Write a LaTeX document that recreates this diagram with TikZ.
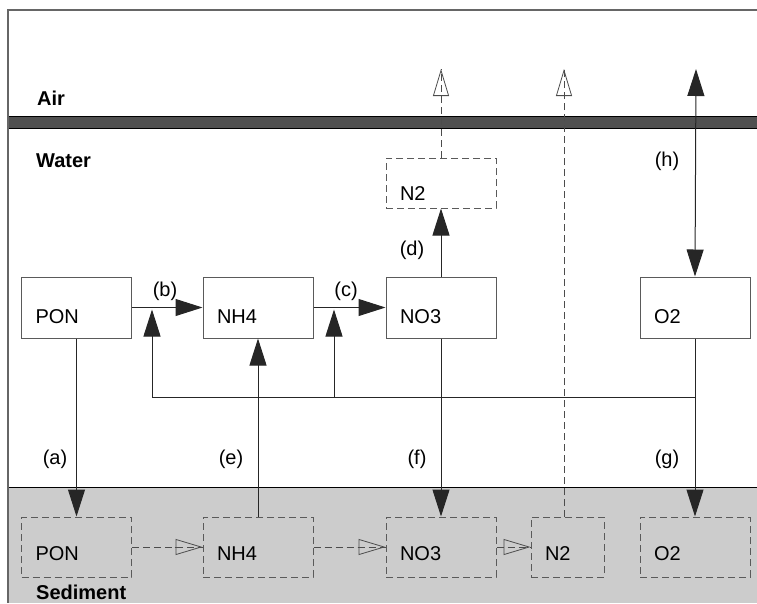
\documentclass[tikz,border=0pt]{standalone}
\usepackage{fontspec}
\setmainfont{Liberation Sans}
\usetikzlibrary{arrows.meta,calc}
\definecolor{band}{HTML}{505050}
\definecolor{sed}{HTML}{CCCCCC}
\definecolor{boxline}{HTML}{5A5A5A}
\tikzset{
  lab/.style={font=\fontsize{20}{24}\selectfont, inner sep=0pt},
  zone/.style={font=\fontsize{20}{24}\selectfont\bfseries, inner sep=0pt, anchor=base west},
  wbox/.style={draw=boxline, line width=1pt, fill=white, minimum width=110pt, minimum height=61pt,
     text width=82pt, align=left, inner xsep=14pt, inner ysep=0pt, text height=31pt, text depth=0pt,
     font=\fontsize{20}{24}\selectfont},
  n2box/.style={wbox, dash pattern=on 7pt off 4pt, minimum height=50pt, text height=34pt},
  sbox/.style={wbox, fill=none, dash pattern=on 7pt off 4pt, minimum height=60pt, text height=26pt},
  conn/.style={draw=black!85, line width=1pt},
  arr/.style={conn, -{Triangle[length=27pt,width=17pt]}},
  darr/.style={conn, {Triangle[length=27pt,width=17pt]}-{Triangle[length=27pt,width=17pt]}},
  dconn/.style={draw=black!70, line width=1pt, dash pattern=on 7pt off 4pt},
  oarr/.style={draw=black!70, line width=0.8pt, -{Triangle[open,length=27pt,width=16pt]}},
}
\begin{document}
\begin{tikzpicture}[x=1pt,y=-1pt]
\useasboundingbox (0,0) rectangle (757,603);
% background zones
\fill[sed] (8,487) rectangle (757,603);
\draw[black, line width=1pt] (8,487) -- (757,487);
\fill[band] (8,116) rectangle (757,128);
\draw[black, line width=0.8pt] (8,116) -- (757,116) (8,128) -- (757,128);
\draw[black!60, line width=1.5pt] (757,10) -- (8,10) -- (8,603);
% zone labels
\node[zone] (air) at (37,105) {Air};
\node[zone] (water) at (36,167) {Water};
\node[zone] (sediment) at (36,599) {Sediment};
% coordinates
\coordinate (topa) at (441,69);
\coordinate (topb) at (564,69);
\coordinate (topc) at (696,69);
\coordinate (fbr) at (696,397);
\coordinate (fbl) at (152,397);
\coordinate (fbm) at (334,397);
% dashed lines to the air (drawn first)
\draw[dconn] (topb |- 0,517) -- (topb);
\draw[oarr] ($(topb)+(0,28)$) -- (topb);
% water boxes
\node[wbox] (pon) at (76.5,307.5) {PON};
\node[wbox] (nh4) at (258,307.5) {NH4};
\node[wbox] (no3) at (441,307.5) {NO3};
\node[wbox] (o2) at (695,307.5) {O2};
\node[n2box] (n2) at (441,183) {N2};
% sediment boxes
\node[sbox] (spon) at (76.5,547) {PON};
\node[sbox] (snh4) at (258,547) {NH4};
\node[sbox] (sno3) at (441,547) {NO3};
\node[sbox, minimum width=73pt, text width=45pt] (sn2) at (567.5,547) {N2};
\node[sbox] (so2) at (695,547) {O2};
% water connectors
\draw[arr] (pon.east) -- (nh4.west);
\draw[arr] (nh4.east) -- (no3.west);
\draw[arr] (no3.north) -- (n2.south);
\draw[darr] (topc) -- (o2.north);
\draw[arr] (o2.south) -- (so2.north);
\draw[arr] (pon.south) -- (spon.north);
\draw[arr] (snh4.north) -- (nh4.south);
\draw[arr] (no3.south) -- (sno3.north);
\draw[arr] (fbr) -- (fbl) -- ($(fbl |- pon.east)+(0,2)$);
\draw[arr] (fbm) -- ($(fbm |- nh4.east)+(0,2)$);
% N2 to air
\draw[dconn] (n2.north) -- (topa);
\draw[oarr] ($(topa)+(0,28)$) -- (topa);
% sediment dashed connectors
\draw[dconn] (spon.east) -- (snh4.west);
\draw[oarr] ($(snh4.west)+(-28,0)$) -- (snh4.west);
\draw[dconn] (snh4.east) -- (sno3.west);
\draw[oarr] ($(sno3.west)+(-28,0)$) -- (sno3.west);
\draw[dconn] (sno3.east) -- (sn2.west);
\draw[oarr] ($(sn2.west)+(-28,0)$) -- (sn2.west);
% labels
\node[lab] (la) at (55,459) {(a)};
\node[lab] (lb) at (165,291) {(b)};
\node[lab] (lc) at (346,291) {(c)};
\node[lab] (ld) at (412,250) {(d)};
\node[lab] (le) at (231,459) {(e)};
\node[lab] (lf) at (417,459) {(f)};
\node[lab] (lg) at (667,459) {(g)};
\node[lab] (lh) at (667,161) {(h)};
\end{tikzpicture}
\end{document}
